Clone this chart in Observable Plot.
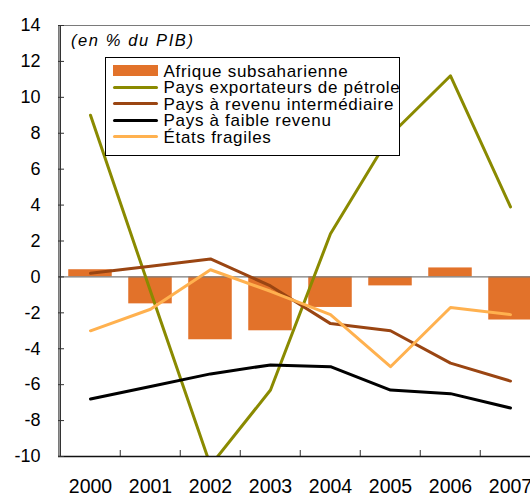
<!DOCTYPE html>
<html>
<head>
<meta charset="utf-8">
<script src="https://cdn.jsdelivr.net/npm/d3@7"></script>
<script src="https://cdn.jsdelivr.net/npm/@observablehq/plot@0.6"></script>
<style>
  body { margin: 0; background: #fff; font-family: "Liberation Sans", Arial, sans-serif; }
  #wrap { position: relative; width: 530px; height: 496px; overflow: hidden; }
  #wrap svg { max-width: none !important; position: absolute; left: 0; top: 0; }
  .unit { position: absolute; left: 71px; top: 30px; font-style: italic; font-size: 16.5px; letter-spacing: 1.6px; line-height: 20px; }
  .legend { position: absolute; left: 104.5px; top: 57px; width: 293px; height: 97px; border: 1px solid #000; background: #fff; }
  .legend .sw { position: absolute; left: 7px; width: 45px; }
  .legend .lb { position: absolute; left: 58px; font-size: 17px; letter-spacing: 0.7px; line-height: 16px; white-space: nowrap; }
</style>
</head>
<body>
<div id="wrap"></div>
<script>
const years = [2000, 2001, 2002, 2003, 2004, 2005, 2006, 2007];
const afrique = [0.4, -1.5, -3.5, -3.0, -1.7, -0.5, 0.5, -2.4];
const petrole = [9.0, -0.8, -10.5, -6.3, 2.4, 7.9, 11.2, 3.9];
const intermediaire = [0.2, 0.6, 1.0, -0.5, -2.6, -3.0, -4.8, -5.8];
const faible = [-6.8, -6.1, -5.4, -4.9, -5.0, -6.3, -6.5, -7.3];
const fragiles = [-3.0, -1.8, 0.4, -0.8, -2.1, -5.0, -1.7, -2.1];
const yTicks = [-10, -8, -6, -4, -2, 0, 2, 4, 6, 8, 10, 12, 14];

const seriesNames = ["Afrique subsaharienne", "Pays exportateurs de pétrole", "Pays à revenu intermédiaire", "Pays à faible revenu", "États fragiles"];
const seriesColors = ["#E2722A", "#8A8A00", "#9A4512", "#000000", "#FFB14F"];

const data = years.map((year, i) => ({
  year, afrique: afrique[i], petrole: petrole[i], intermediaire: intermediaire[i],
  faible: faible[i], fragiles: fragiles[i]
}));

const W = 542, H = 496, mL = 58, mR = 0, mT = 25, mB = 40;
const plotW = W - mL - mR, plotH = H - mT - mB;
const bw = plotW / years.length;

const lineOpts = (key, color) => Plot.lineY(data, {x: "year", y: key, stroke: color, strokeWidth: 3, clip: true, strokeLinejoin: "round"});

const chart = Plot.plot({
  width: W, height: H,
  marginLeft: mL, marginRight: mR, marginTop: mT, marginBottom: mB,
  style: {fontFamily: '"Liberation Sans", Arial, sans-serif', fontSize: "18px", background: "#fff", color: "#000"},
  x: {type: "band", domain: years, padding: 0, label: null},
  y: {domain: [-10, 14], label: null},
  marks: [
    Plot.frame({stroke: "#7a7a7a"}),
    Plot.barY(data, {x: "year", y: "afrique", fill: seriesColors[0], insetLeft: 8.25, insetRight: 8.25}),
    Plot.ruleY([0], {stroke: "#7a7a7a", strokeWidth: 1.2}),
    lineOpts("petrole", seriesColors[1]),
    lineOpts("intermediaire", seriesColors[2]),
    lineOpts("faible", seriesColors[3]),
    lineOpts("fragiles", seriesColors[4]),
    Plot.ruleY([-10], {stroke: "#111", strokeWidth: 1.5}),
    Plot.ruleX([years[0]], {dx: -bw / 2, stroke: "#333", strokeWidth: 1.5}),
    Plot.ruleY(yTicks, {insetRight: plotW - 6, stroke: "#333"}),
    Plot.ruleX(years.slice(1), {dx: -bw / 2, insetTop: plotH - 6, stroke: "#333"}),
    Plot.axisY({ticks: yTicks, tickSize: 0, tickPadding: 18, tickFormat: d => String(d), fontSize: 18, label: null}),
    Plot.axisX({tickSize: 0, tickPadding: 23, tickFormat: d => String(d), fontSize: 19.5, label: null})
  ]
});
chart.style.maxWidth = "none";

const wrap = document.getElementById("wrap");
wrap.appendChild(chart);

const unit = document.createElement("div");
unit.className = "unit";
unit.textContent = "(en % du PIB)";
wrap.appendChild(unit);

const legend = document.createElement("div");
legend.className = "legend";
seriesNames.forEach((name, i) => {
  const rowTop = 4 + i * 16.5;
  const sw = document.createElement("div");
  sw.className = "sw";
  if (i === 0) {
    sw.style.top = (rowTop + 3) + "px";
    sw.style.height = "11px";
  } else {
    sw.style.top = (rowTop + 7) + "px";
    sw.style.height = "3px";
    sw.style.borderRadius = "1.5px";
  }
  sw.style.background = seriesColors[i];
  legend.appendChild(sw);
  const lb = document.createElement("div");
  lb.className = "lb";
  lb.style.top = (rowTop + 1.5) + "px";
  lb.textContent = name;
  legend.appendChild(lb);
});
wrap.appendChild(legend);
</script>
</body>
</html>
